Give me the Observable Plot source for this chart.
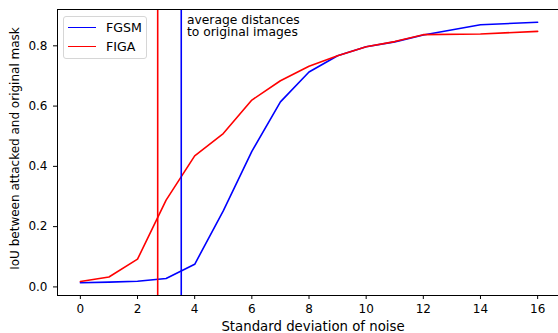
<!DOCTYPE html>
<html>
<head>
<meta charset="utf-8">
<script src="https://cdn.jsdelivr.net/npm/d3@7"></script>
<script src="https://cdn.jsdelivr.net/npm/@observablehq/plot@0.6"></script>
<style>
  html, body { margin: 0; padding: 0; background: #fff; overflow: hidden; }
  #wrap { position: relative; width: 558px; height: 333px; font-family: "DejaVu Sans", sans-serif; }
  #legend { position: absolute; left: 63px; top: 16px; width: 82px; height: 41px; border: 1px solid #d6d6d6; border-radius: 3px; background: rgba(255,255,255,0.8); font-size: 12.6px; color: #000; }
  .item { position: absolute; left: 4px; height: 14px; display: flex; align-items: center; }
  .sw { width: 28px; height: 0; border-top: 1.6px solid; margin-right: 10px; }
</style>
</head>
<body>
<div id="wrap"></div>
<script>
const noise = [0, 1, 2, 3, 4, 5, 6, 7, 8, 9, 10, 11, 12, 14, 16];
const fgsm = [0.014, 0.016, 0.019, 0.028, 0.075, 0.252, 0.45, 0.614, 0.713, 0.767, 0.797, 0.813, 0.836, 0.870, 0.878];
const figa = [0.018, 0.033, 0.092, 0.288, 0.435, 0.509, 0.620, 0.684, 0.732, 0.767, 0.797, 0.814, 0.837, 0.839, 0.848];
const seriesNames = ["FGSM", "FIGA"];
const seriesColors = ["#0000ff", "#ff0000"];
const avgDistance = [3.53, 2.706]; // FGSM, FIGA
const xTicks = [0, 2, 4, 6, 8, 10, 12, 14, 16];
const yTicks = [0, 0.2, 0.4, 0.6, 0.8];
const xLabel = "Standard deviation of noise";
const yLabel = "IoU between attacked and original mask";
const annotation = "average distances\nto original images";
const annotationX = 3.73;

const rows = [];
noise.forEach((n, i) => {
  rows.push({x: n, y: fgsm[i], s: seriesNames[0]});
  rows.push({x: n, y: figa[i], s: seriesNames[1]});
});
const vlines = avgDistance.map((d, i) => ({x: d, s: seriesNames[i]}));

const chart = Plot.plot({
  width: 558,
  height: 333,
  marginLeft: 57,
  marginTop: 9,
  marginBottom: 38,
  marginRight: -2,
  style: {fontFamily: "DejaVu Sans, sans-serif", fontSize: "12px", color: "#000", background: "#fff", overflow: "hidden"},
  x: {domain: [-0.8, 16.8]},
  y: {domain: [-0.0285, 0.9205]},
  color: {domain: seriesNames, range: seriesColors},
  marks: [
    Plot.line(rows, {x: "x", y: "y", z: "s", stroke: "s", strokeWidth: 1.6}),
    Plot.ruleX(vlines, {x: "x", stroke: "s", strokeWidth: 1.6}),
    Plot.text([annotation], {x: annotationX, frameAnchor: "top", text: d => d, textAnchor: "start", lineAnchor: "top", dy: 6, lineHeight: 0.97, fontSize: 12.3, fill: "#000"}),
    Plot.axisX(xTicks, {tickSize: 4, tickPadding: 5, fontSize: 12, label: null, stroke: "#000", fill: "#000"}),
    Plot.axisY(yTicks, {tickSize: 4, tickPadding: 6, fontSize: 12, tickFormat: d3.format(".1f"), label: null, stroke: "#000", fill: "#000"}),
    Plot.frame({stroke: "#000", strokeWidth: 1}),
    Plot.text([xLabel], {frameAnchor: "bottom", text: d => d, dy: 31, dx: 4, lineAnchor: "middle", fontSize: 13.3, fill: "#000"}),
    Plot.text([yLabel], {frameAnchor: "left", text: d => d, rotate: -90, textAnchor: "middle", lineAnchor: "middle", dx: -42, dy: -4, fontSize: 12, fill: "#000"})
  ]
});

const wrap = document.getElementById("wrap");
wrap.appendChild(chart);
const legend = document.createElement("div");
legend.id = "legend";
seriesNames.forEach((name, i) => {
  const it = document.createElement("div");
  it.className = "item";
  it.style.top = (3 + i * 19) + "px";
  const sw = document.createElement("span");
  sw.className = "sw";
  sw.style.borderColor = seriesColors[i];
  const tx = document.createElement("span");
  tx.textContent = name;
  it.appendChild(sw);
  it.appendChild(tx);
  legend.appendChild(it);
});
wrap.appendChild(legend);
</script>
</body>
</html>
